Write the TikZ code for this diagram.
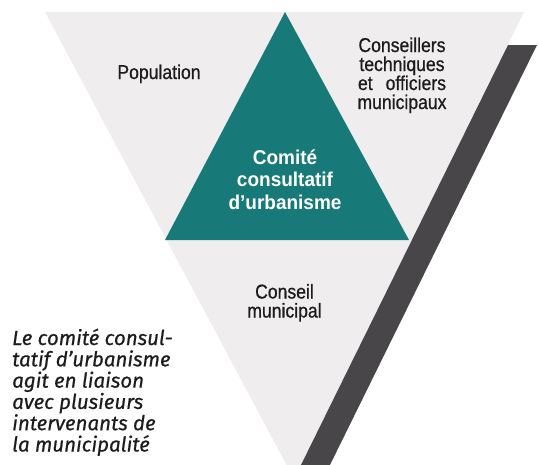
\documentclass[tikz,border=0pt]{standalone}
\usepackage{fontspec}
\setmainfont{Liberation Sans}
\newfontfamily\condfont{Liberation Sans}[FakeStretch=0.88,FakeBold=0.7]
\newfontfamily\corefont{Liberation Sans}[FakeStretch=0.95]
\newfontfamily\notefont{Fira Sans}[FakeBold=0.6]
\definecolor{paper}{RGB}{240,237,238}
\definecolor{tealfill}{RGB}{24,122,120}
\definecolor{barfill}{RGB}{72,70,72}
\definecolor{ink}{RGB}{28,28,28}
\begin{document}
% multi-line nodes are anchored at the baseline of their last line
\begin{tikzpicture}[x=1pt,y=-1pt,
  lbl/.style={font=\condfont\fontsize{20}{19}\selectfont, align=center,
    inner sep=0pt, anchor=base, text=ink},
  core/.style={font=\corefont\bfseries\fontsize{20}{22.5}\selectfont, align=center,
    inner sep=0pt, anchor=base, text=white},
  note/.style={font=\notefont\itshape\fontsize{20.5}{21.3}\selectfont, align=left,
    inner sep=0pt, anchor=base west, text=ink}]
\useasboundingbox (0,0) rectangle (539,464);
\clip (0,0) rectangle (539,464);
% outer inverted triangle
\fill[paper] (45,12) -- (524,12) -- (294,479) -- cycle;
% slanted shadow bar along the right side
\fill[barfill] (508,45) -- (537,45) -- (327.5,470) -- (298.5,470) -- cycle;
% central triangle
\fill[tealfill] (285,12) -- (409,240) -- (165,240) -- cycle;
% labels
\node[lbl] (pop) at (159,79) {Population};
\node[lbl] (cons) at (402,109) {Conseillers\\techniques\\\makebox[88pt][s]{et officiers}\\municipaux};
\node[core] (ccu) at (285,209) {Comité\\consultatif\\d’urbanisme};
\node[lbl] (cm) at (284.5,317.5) {Conseil\\municipal};
\node[note] (cap) at (12,451.5) {Le comité consul-\\tatif d’urbanisme\\agit en liaison\\avec plusieurs\\intervenants de\\la municipalité};
\end{tikzpicture}
\end{document}
